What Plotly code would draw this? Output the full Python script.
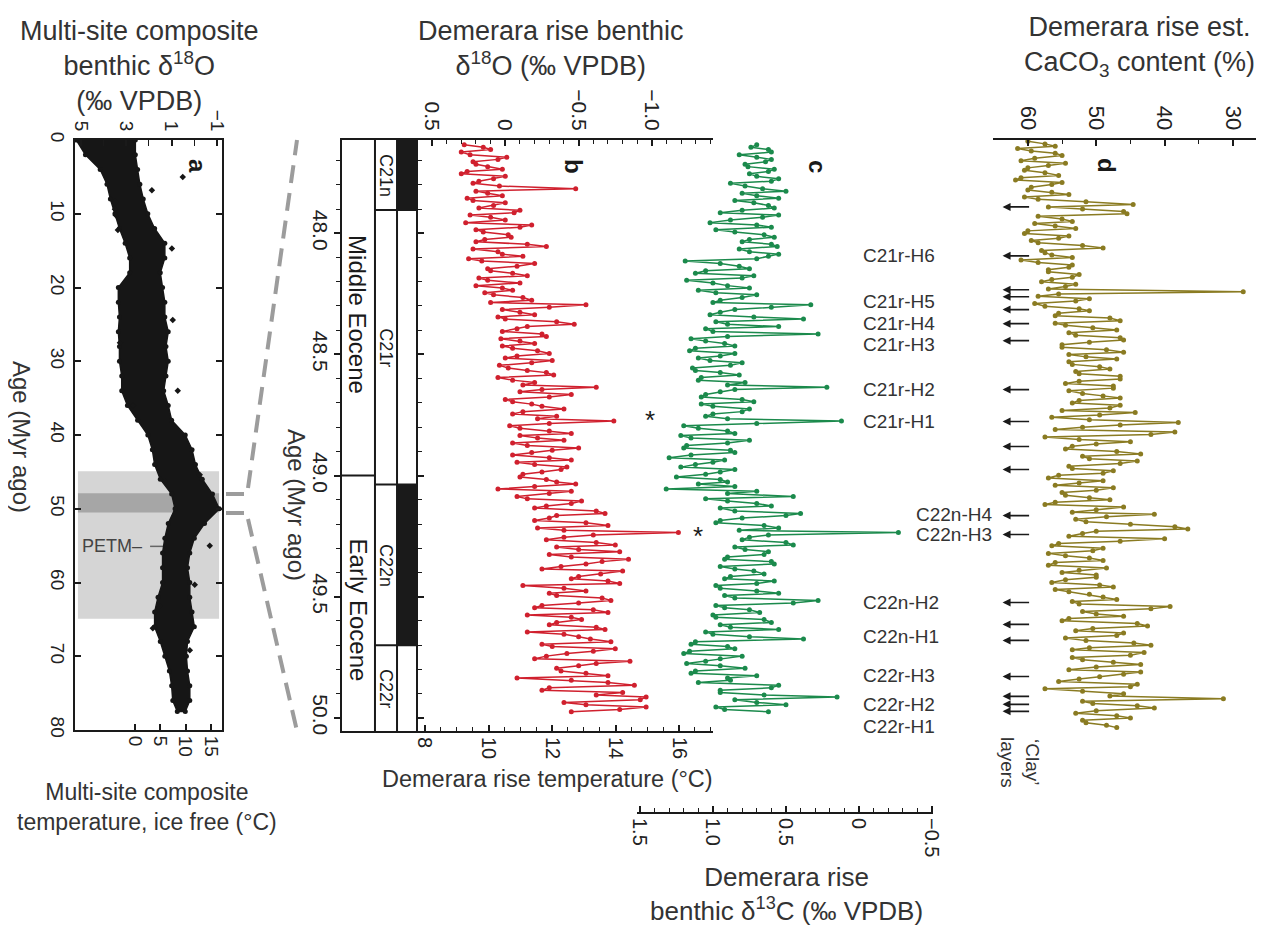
import plotly.graph_objects as go

# The page places the figure 8 px from the top-left corner, so the figure is sized to fill the
# remaining window and every layout position is given in window pixels.
OFF = 8
W, H = 1264 - OFF, 926 - OFF
def px(x): return (x - OFF) / W
def py(y): return 1 - (y - OFF) / H

# ---------------- data ----------------
# Panel a: multi-site composite benthic d18O (envelope of the point cloud) + scattered outliers
comp_age = [0, 2, 4, 6, 8, 10, 12, 14, 16, 18, 20, 22, 24, 26, 28, 30, 32, 34, 36, 38,
            40, 42, 44, 46, 48, 50, 52, 54, 56, 58, 60, 62, 64, 66, 68, 70, 72, 74, 76, 77.5]
comp_d18o_heavy = [5.2, 4.8, 4.15, 3.85, 3.7, 3.5, 3.3, 3.05, 2.85, 2.85, 3.35, 3.35, 3.3, 3.35, 3.3, 3.3, 3.2, 3.2, 2.95, 2.5,
                   2.05, 1.85, 1.75, 1.5, 1.0, 0.85, 1.15, 1.3, 1.4, 1.4, 1.4, 1.6, 1.75, 1.75, 1.5, 1.3, 1.1, 1.0, 0.95, 0.75]
comp_d18o_light = [2.6, 2.6, 2.5, 2.4, 2.25, 2.05, 1.75, 1.3, 1.3, 1.5, 1.4, 1.3, 1.3, 1.15, 1.25, 1.15, 1.25, 1.35, 1.15, 1.0,
                   0.4, 0.1, -0.05, -0.35, -0.8, -1.1, -0.45, 0.0, 0.2, 0.3, 0.2, 0.2, 0.1, 0.0, 0.3, 0.35, 0.3, 0.2, 0.2, 0.4]
comp_out_age = [5.0, 6.8, 8.4, 9.4, 10.2, 12.2, 14.7, 24.4, 27.5, 34.0, 36.0, 45.4, 46.3, 55.0, 60.3, 63.3, 66.2, 69.2]
comp_out_d18o = [0.51, 1.87, 3.5, 3.5, 3.46, 3.37, 0.99, 0.95, 3.28, 0.73, 2.71, -0.24, 1.3, -0.68, -0.02, 1.52, 1.83, 0.2]

# Panels b, c: Demerara rise benthic d18O and d13C (same samples; two interleaved sample sets)
bc_age = [47.635, 47.654, 47.676, 47.695, 47.715, 47.736, 47.754, 47.775, 47.794, 47.816,
          47.835, 47.855, 47.874, 47.896, 47.915, 47.934, 47.956, 47.975, 47.995, 48.016,
          48.035, 48.054, 48.076, 48.095, 48.114, 48.136, 48.155, 48.175, 48.194, 48.216,
          48.235, 48.254, 48.276, 48.295, 48.315, 48.336, 48.354, 48.375, 48.394, 48.416,
          48.435, 48.455, 48.474, 48.496, 48.515, 48.534, 48.556, 48.575, 48.595, 48.616,
          48.635, 48.654, 48.676, 48.695, 48.714, 48.736, 48.755, 48.775, 48.794, 48.816,
          48.835, 48.854, 48.876, 48.895, 48.915, 48.936, 48.954, 48.975, 48.994, 49.016,
          49.035, 49.055, 49.074, 49.096, 49.115, 49.134, 49.156, 49.175, 49.195, 49.216,
          49.235, 49.254, 49.276, 49.295, 49.314, 49.336, 49.355, 49.375, 49.394, 49.416,
          49.435, 49.454, 49.476, 49.495, 49.515, 49.536, 49.554, 49.575, 49.594, 49.616,
          49.635, 49.655, 49.674, 49.696, 49.715, 49.734, 49.756, 49.775, 49.795, 49.816,
          49.835, 49.854, 49.876, 49.895, 49.914, 49.936, 49.955, 49.975]
b_d18o = [0.28, 0.10, 0.24, 0.05, 0.20, 0.02, 0.30, 0.08, 0.22, -0.48,
          0.12, 0.26, 0.00, 0.18, -0.06, 0.10, 0.27, -0.10, 0.15, -0.04,
          0.20, -0.28, 0.05, -0.12, 0.16, -0.08, 0.10, -0.15, 0.12, 0.20,
          -0.05, 0.08, -0.18, -0.55, 0.02, -0.20, 0.00, -0.47, -0.08, -0.25,
          0.03, -0.20, -0.05, -0.30, 0.00, -0.18, -0.02, -0.28, 0.05, -0.20,
          -0.62, -0.10, -0.30, -0.05, -0.25, -0.12, -0.35, -0.74, -0.03, -0.30,
          -0.10, -0.40, -0.15, -0.32, -0.05, -0.45, -0.20, -0.38, -0.12, -0.28,
          -0.48, 0.05, -0.30, -0.15, -0.45, -0.20, -0.68, -0.30, -0.55, -0.22,
          -1.18, -0.40, -0.62, -0.35, -0.78, -0.45, -0.66, -0.38, -0.80, -0.50,
          -0.70, -0.12, -0.55, -0.35, -0.72, -0.25, -0.60, -0.15, -0.52, -0.30,
          -0.68, -0.40, -0.58, -0.25, -0.75, -0.42, -0.20, -0.62, -0.35, -0.55,
          -0.08, -0.70, -0.30, -0.80, -0.96, -0.40, -0.96, -0.45]
c_d13c = [0.70, 0.62, 0.82, 0.60, 0.78, 0.58, 0.75, 0.55, 0.88, 0.66,
          0.80, 0.55, 0.72, 0.58, 0.95, 0.66, 1.02, 0.60, 0.85, 0.58,
          0.80, 0.56, 0.75, 0.62, 1.19, 0.82, 1.05, 0.72, 1.18, 0.90,
          1.10, 0.70, 0.95, 0.33, 0.85, 1.02, 0.38, 0.90, 1.05, 0.28,
          1.15, 0.92, 1.12, 0.85, 1.10, 0.80, 1.14, 0.95, 1.08, 0.78,
          0.22, 0.95, 1.08, 0.72, 1.00, 0.80, 1.05, 0.12, 1.20, 0.90,
          1.22, 0.75, 1.18, 0.88, 1.15, 0.92, 1.12, 0.85, 1.05, 0.95,
          1.10, 1.32, 0.90, 1.05, 0.70, 0.95, 0.40, 0.80, 0.98, 0.55,
          -0.27, 0.75, 0.50, 0.85, 0.62, 0.90, 0.60, 0.95, 0.72, 0.88,
          0.58, 0.98, 0.70, 0.92, 0.28, 0.98, 0.75, 1.00, 0.65, 0.95,
          0.55, 1.00, 0.38, 1.15, 0.85, 1.20, 0.95, 1.18, 0.78, 1.15,
          0.90, 1.10, 0.60, 0.95, 0.15, 0.70, 0.98, 0.62]
bc_age2 = [47.645, 47.665, 47.686, 47.705, 47.725, 47.745, 47.765, 47.785, 47.805, 47.826,
           47.845, 47.865, 47.885, 47.905, 47.925, 47.945, 47.966, 47.985, 48.006, 48.026,
           48.045, 48.065, 48.086, 48.105, 48.125, 48.146, 48.165, 48.185, 48.205, 48.226,
           48.245, 48.265, 48.286, 48.305, 48.326, 48.345, 48.365, 48.385, 48.405, 48.426,
           48.445, 48.465, 48.485, 48.506, 48.525, 48.545, 48.566, 48.585, 48.606, 48.626,
           48.645, 48.665, 48.686, 48.705, 48.725, 48.746, 48.765, 48.785, 48.805, 48.826,
           48.845, 48.865, 48.886, 48.905, 48.926, 48.945, 48.965, 48.985, 49.006, 49.026,
           49.045, 49.065, 49.086, 49.105, 49.125, 49.146, 49.165, 49.185, 49.206, 49.226,
           49.245, 49.265, 49.286, 49.305, 49.326, 49.345, 49.365, 49.385, 49.406, 49.426,
           49.445, 49.465, 49.486, 49.505, 49.526, 49.545, 49.565, 49.585, 49.606, 49.626,
           49.645, 49.665, 49.686, 49.705, 49.725, 49.745, 49.766, 49.785, 49.806, 49.826,
           49.845, 49.865, 49.886, 49.905, 49.925, 49.946, 49.965]
b_d18o2 = [0.15, 0.30, -0.01, 0.22, 0.12, 0.26, 0.00, 0.18, 0.04, 0.20,
           0.02, 0.22, 0.08, -0.10, 0.24, 0.00, -0.18, 0.20, -0.02, 0.14,
           -0.15, 0.22, 0.02, 0.25, -0.20, 0.12, -0.05, 0.18, -0.10, 0.02,
           0.14, -0.12, 0.10, -0.30, -0.10, 0.05, -0.35, -0.15, 0.02, -0.28,
           -0.10, 0.02, -0.22, -0.08, -0.32, 0.04, -0.15, -0.33, -0.05, -0.12,
           -0.25, -0.45, 0.00, -0.18, -0.40, -0.05, -0.22, -0.30, -0.10, -0.45,
           -0.22, -0.05, -0.50, -0.18, -0.30, -0.08, -0.42, -0.25, -0.10, -0.35,
           -0.20, -0.45, -0.08, -0.52, -0.28, -0.62, -0.35, -0.20, -0.70, -0.40,
           -0.60, -0.28, -0.75, -0.50, -0.30, -0.84, -0.55, -0.25, -0.65, -0.45,
           -0.78, -0.40, -0.30, -0.66, -0.50, -0.20, -0.70, -0.45, -0.35, -0.62,
           -0.15, -0.50, -0.72, -0.32, -0.60, -0.28, -0.85, -0.50, -0.38, -0.70,
           -0.45, -0.88, -0.25, -0.62, -0.92, -0.55, -0.78]
c_d13c2 = [0.74, 0.60, 0.70, 0.64, 0.76, 0.62, 0.70, 0.60, 0.78, 0.50,
           0.70, 0.85, 0.62, 0.80, 0.55, 0.88, 0.70, 0.98, 0.65, 0.75,
           0.60, 0.82, 0.55, 0.70, 0.95, 0.75, 1.12, 0.80, 1.00, 0.75,
           0.98, 0.80, 1.00, 0.60, 0.95, 0.72, 0.98, 0.55, 1.00, 0.90,
           1.05, 0.85, 1.16, 0.95, 1.02, 0.88, 1.12, 0.82, 1.10, 0.90,
           0.85, 1.05, 0.80, 1.08, 0.75, 1.00, 0.90, 0.70, 1.10, 0.85,
           1.15, 0.90, 1.20, 0.85, 1.30, 1.00, 1.22, 0.95, 1.25, 0.90,
           0.85, 0.70, 0.45, 0.90, 0.60, 0.85, 0.50, 0.95, 0.65, 0.82,
           0.62, 0.80, 0.45, 0.78, 0.65, 0.92, 0.58, 0.85, 0.65, 0.92,
           0.70, 0.95, 0.55, 0.85, 0.45, 0.92, 0.68, 0.98, 0.60, 0.88,
           1.05, 0.75, 1.12, 0.90, 1.16, 0.80, 1.05, 0.95, 1.12, 0.70,
           0.88, 0.55, 0.95, 0.65, 0.85, 0.50, 0.92]

# Panel d: estimated CaCO3 content (two interleaved sample sets)
d_age = [47.620, 47.641, 47.660, 47.679, 47.701, 47.720, 47.740, 47.761, 47.780, 47.799,
         47.821, 47.840, 47.860, 47.881, 47.900, 47.919, 47.941, 47.960, 47.980, 48.001,
         48.020, 48.039, 48.061, 48.080, 48.100, 48.121, 48.140, 48.159, 48.181, 48.200,
         48.220, 48.241, 48.260, 48.279, 48.301, 48.320, 48.340, 48.361, 48.380, 48.399,
         48.421, 48.440, 48.460, 48.481, 48.500, 48.519, 48.541, 48.560, 48.580, 48.601,
         48.620, 48.639, 48.661, 48.680, 48.700, 48.721, 48.740, 48.759, 48.781, 48.800,
         48.820, 48.841, 48.860, 48.879, 48.901, 48.920, 48.940, 48.961, 48.980, 48.999,
         49.021, 49.040, 49.060, 49.081, 49.100, 49.119, 49.141, 49.160, 49.180, 49.201,
         49.220, 49.239, 49.261, 49.280, 49.300, 49.321, 49.340, 49.359, 49.381, 49.400,
         49.420, 49.441, 49.460, 49.479, 49.501, 49.520, 49.540, 49.561, 49.580, 49.599,
         49.621, 49.640, 49.660, 49.681, 49.700, 49.719, 49.741, 49.760, 49.780, 49.801,
         49.820, 49.839, 49.861, 49.880, 49.900, 49.921, 49.940, 49.959, 49.981, 50.000,
         50.020, 50.040]
d_caco3 = [60.0, 56.0, 59.5, 55.0, 61.0, 57.0, 60.5, 55.5, 61.8, 56.5,
           60.0, 54.0, 58.5, 44.6, 52.0, 45.5, 55.0, 59.0, 53.0, 60.5,
           55.5, 58.5, 49.0, 57.5, 53.5, 58.5, 54.0, 57.0, 53.5, 58.0,
           54.5, 28.5, 58.5, 53.0, 57.5, 51.0, 56.0, 46.5, 54.5, 47.0,
           53.0, 46.0, 55.0, 48.5, 54.0, 47.0, 53.5, 48.0, 52.5, 46.5,
           54.5, 47.5, 52.0, 46.5, 53.5, 48.0, 44.3, 56.5, 38.0, 52.0,
           38.5, 57.5, 45.0, 53.5, 47.0, 52.0, 44.0, 54.0, 47.5, 55.5,
           49.0, 56.0, 50.0, 54.5, 48.0, 57.5, 50.0, 41.5, 53.0, 45.0,
           36.6, 52.0, 40.0, 55.5, 49.0, 57.0, 51.0, 56.0, 48.5, 55.0,
           50.0, 56.5, 47.5, 54.0, 49.0, 53.5, 39.2, 52.0, 46.0, 55.0,
           42.5, 53.0, 47.0, 51.5, 42.0, 53.5, 45.0, 52.0, 43.5, 54.0,
           46.0, 52.5, 44.0, 57.5, 46.0, 31.4, 50.5, 41.5, 53.0, 45.0,
           51.5, 47.0]
d_age2 = [47.631, 47.650, 47.670, 47.690, 47.711, 47.730, 47.750, 47.771, 47.790, 47.810,
          47.831, 47.850, 47.870, 47.891, 47.910, 47.930, 47.951, 47.970, 47.990, 48.011,
          48.030, 48.050, 48.071, 48.090, 48.110, 48.131, 48.150, 48.170, 48.191, 48.210,
          48.230, 48.251, 48.270, 48.290, 48.311, 48.330, 48.350, 48.371, 48.390, 48.410,
          48.431, 48.450, 48.470, 48.491, 48.510, 48.530, 48.551, 48.570, 48.590, 48.611,
          48.630, 48.650, 48.671, 48.690, 48.710, 48.731, 48.750, 48.770, 48.791, 48.810,
          48.830, 48.851, 48.870, 48.890, 48.911, 48.930, 48.950, 48.971, 48.990, 49.010,
          49.031, 49.050, 49.070, 49.091, 49.110, 49.130, 49.151, 49.170, 49.190, 49.211,
          49.230, 49.250, 49.271, 49.290, 49.310, 49.331, 49.350, 49.370, 49.391, 49.410,
          49.430, 49.451, 49.470, 49.490, 49.511, 49.530, 49.550, 49.571, 49.590, 49.610,
          49.631, 49.650, 49.670, 49.691, 49.710, 49.730, 49.751, 49.770, 49.790, 49.811,
          49.830, 49.850, 49.871, 49.890, 49.910, 49.931, 49.950, 49.970, 49.991, 50.010,
          50.030]
d_caco3_2 = [57.5, 61.5, 56.0, 59.0, 54.5, 60.0, 57.5, 61.0, 55.0, 59.5,
             56.5, 60.5, 51.5, 57.0, 46.0, 58.5, 53.5, 56.0, 60.0, 54.0,
             59.5, 52.0, 58.0, 56.5, 61.0, 53.5, 57.0, 52.5, 56.5, 53.0,
             57.0, 55.5, 51.0, 59.0, 52.5, 55.5, 48.0, 56.0, 50.5, 54.0,
             46.5, 51.0, 55.0, 46.0, 51.5, 54.0, 49.5, 53.0, 46.5, 52.5,
             47.5, 54.0, 49.0, 52.5, 46.5, 55.0, 49.5, 51.0, 46.5, 56.0,
             42.0, 52.5, 50.0, 54.5, 43.5, 51.0, 46.5, 53.5, 49.0, 57.0,
             52.5, 47.5, 55.0, 51.0, 56.0, 46.0, 53.5, 48.5, 51.5, 38.5,
             50.0, 54.0, 46.5, 56.5, 50.5, 54.5, 49.0, 57.0, 52.5, 50.0,
             54.5, 49.5, 56.0, 51.0, 47.0, 52.5, 42.0, 50.0, 54.0, 44.0,
             50.5, 46.0, 54.5, 44.5, 51.0, 43.0, 53.5, 47.5, 50.0, 43.5,
             49.5, 55.5, 45.0, 52.0, 48.0, 52.0, 44.0, 50.0, 47.0, 52.0,
             48.5]

# hyperthermal labels and 'clay' layers
hyper_labels = ["C21r-H6", "C21r-H5", "C21r-H4", "C21r-H3", "C21r-H2", "C21r-H1",
                "C22n-H4", "C22n-H3", "C22n-H2", "C22n-H1", "C22r-H3", "C22r-H2", "C22r-H1"]
hyper_ages = [48.093, 48.282, 48.373, 48.460, 48.645, 48.777,
              49.161, 49.243, 49.524, 49.664, 49.825, 49.944, 50.035]
clay_ages = [47.891, 48.093, 48.233, 48.262, 48.315, 48.373, 48.443, 48.645, 48.777, 48.880,
             48.975, 49.165, 49.243, 49.524, 49.614, 49.680, 49.829, 49.911, 49.944, 49.973]

# magnetochrons and epochs
chron_names = ["C21n", "C21r", "C22n", "C22r"]
chron_top = [47.615, 47.904, 49.037, 49.700]
chron_bot = [47.904, 49.037, 49.700, 50.054]
chron_normal = [True, False, True, False]
epoch_names = ["Middle Eocene", "Early Eocene"]
epoch_top = [47.615, 49.0]
epoch_bot = [49.0, 50.054]

# merge interleaved sample sets by age
bc = sorted(zip(bc_age + bc_age2, b_d18o + b_d18o2, c_d13c + c_d13c2))
bc_age_all = [r[0] for r in bc]
b_all = [r[1] for r in bc]
c_all = [r[2] for r in bc]
dd = sorted(zip(d_age + d_age2, d_caco3 + d_caco3_2))
d_age_all = [r[0] for r in dd]
d_all = [r[1] for r in dd]

# ---------------- styling ----------------
FONT = "Liberation Sans, Arial, sans-serif"
INK = "#1a1a1a"
TXT = "#333333"
RED = "#d0202e"
GREEN = "#1b8a4c"
OLIVE = "#8a7b22"
AGE_TOP, AGE_BOT = 47.615, 50.054

def axstyle(size=21, **kw):
    d = dict(showgrid=False, zeroline=False, showline=True, linecolor=INK, linewidth=2,
             ticks='inside', tickcolor=INK, tickwidth=1.5, ticklen=6, automargin=False,
             tickfont=dict(family=FONT, size=size, color='#222'), tickangle=90)
    d.update(kw)
    return d

def minor_arr(vals, ticks='inside', ln=4):
    return dict(tickmode='array', tickvals=vals, ticks=ticks, ticklen=ln, tickcolor=INK, tickwidth=1.2, showgrid=False)

fig = go.Figure()

# panel a
fig.add_trace(go.Scatter(x=comp_d18o_heavy + comp_d18o_light[::-1], y=comp_age + comp_age[::-1],
                         xaxis='x', yaxis='y', mode='lines+markers', fill='toself', fillcolor='#161616',
                         line=dict(color='#161616', width=1.5), marker=dict(size=5, color='#161616'),
                         hoverinfo='skip', showlegend=False))
fig.add_trace(go.Scatter(x=comp_out_d18o, y=comp_out_age, xaxis='x', yaxis='y', mode='markers',
                         marker=dict(size=5, color='#161616', symbol='diamond'), showlegend=False))
fig.add_trace(go.Scatter(x=[None], y=[None], xaxis='x3', yaxis='y', showlegend=False))
fig.add_trace(go.Scatter(x=[None], y=[None], xaxis='x4', yaxis='y4', showlegend=False))
# panel b red
fig.add_trace(go.Scatter(x=b_all, y=bc_age_all, xaxis='x5', yaxis='y5', mode='lines+markers',
                         line=dict(color=RED, width=1.5), marker=dict(color=RED, size=5), showlegend=False))
fig.add_trace(go.Scatter(x=[None], y=[None], xaxis='x6', yaxis='y5', showlegend=False))
# panel c green
fig.add_trace(go.Scatter(x=c_all, y=bc_age_all, xaxis='x7', yaxis='y7', mode='lines+markers',
                         line=dict(color=GREEN, width=1.5), marker=dict(color=GREEN, size=5), showlegend=False))
# panel d olive
fig.add_trace(go.Scatter(x=d_all, y=d_age_all, xaxis='x8', yaxis='y8', mode='lines+markers',
                         line=dict(color=OLIVE, width=1.5), marker=dict(color=OLIVE, size=5), showlegend=False))

b_dom = [py(731), py(140)]
age_major = [48.0, 48.5, 49.0, 49.5, 50.0]
age_minor = [round(47.7 + 0.1 * k, 1) for k in range(24) if round(47.7 + 0.1 * k, 1) not in age_major]

layout = dict(
    width=W, height=H, margin=dict(l=0, r=0, t=0, b=0, pad=0, autoexpand=False),
    paper_bgcolor='white', plot_bgcolor='rgba(0,0,0,0)', showlegend=False,
    font=dict(family=FONT, color=TXT),
    # panel a
    xaxis=axstyle(size=19, domain=[px(75), px(222)], range=[5.26, -1.22], side='top', anchor='y',
                  tickmode='array', tickvals=[5, 3, 1, -1], ticktext=['5', '3', '1', '\u22121'],
                  minor=minor_arr([4, 2, 0], ln=6)),
    xaxis3=axstyle(size=19, overlaying='x', side='bottom', anchor='y', range=[-11.8, 17.2],
                   tickmode='array', tickvals=[0, 5, 10, 15], ticktext=['0', '5', '10', '15']),
    yaxis=axstyle(size=19, domain=[py(730), py(140)], range=[80, 0], anchor='x', mirror='ticks',
                  tickmode='array', tickvals=list(range(0, 81, 10)), ticklabelstandoff=-1),
    # panel b columns
    xaxis4=axstyle(domain=[px(342), px(418)], range=[0, 1], anchor='y4', mirror=True,
                   ticks='', showticklabels=False),
    yaxis4=axstyle(domain=b_dom, range=[AGE_BOT, AGE_TOP], anchor='x4', ticks='outside', ticklen=6,
                   tickmode='array', tickvals=age_major, ticktext=['48.0', '48.5', '49.0', '49.5', '50.0'],
                   minor=minor_arr(age_minor, ticks='outside', ln=4), ticklabelstandoff=-4),
    # panel b data
    xaxis5=axstyle(domain=[px(418), px(713)], range=[0.595, -1.416], side='top', anchor='y5',
                   tickmode='array', tickvals=[0.5, 0, -0.5, -1.0], ticktext=['0.5', '0', '\u22120.5', '\u22121.0'],
                   minor=minor_arr([round(0.5 - 0.1 * k, 1) for k in range(20)])),
    xaxis6=axstyle(size=20, overlaying='x5', side='bottom', anchor='y5', range=[7.78, 17.07],
                   tickmode='array', tickvals=[8, 10, 12, 14, 16],
                   minor=minor_arr([8 + 0.5 * k for k in range(19)])),
    yaxis5=axstyle(domain=b_dom, range=[AGE_BOT, AGE_TOP], anchor='x5', showticklabels=False,
                   tickmode='array', tickvals=age_major, minor=minor_arr(age_minor)),
    # panel c
    xaxis7=axstyle(size=20, domain=[px(637), px(933)], range=[1.52, -0.507], anchor='free', position=py(813),
                   side='bottom', tickmode='array', tickvals=[1.5, 1.0, 0.5, 0, -0.5],
                   ticktext=['1.5', '1.0', '0.5', '0', '\u22120.5'],
                   minor=minor_arr([round(1.5 - 0.1 * k, 1) for k in range(21)])),
    yaxis7=dict(domain=b_dom, range=[AGE_BOT, AGE_TOP], anchor='x7', visible=False, automargin=False),
    # panel d
    xaxis8=axstyle(size=22, domain=[px(993), 1.0], range=[65.1, 25.46], side='top', anchor='y8',
                   tickmode='array', tickvals=[60, 50, 40, 30], minor=minor_arr([55, 45, 35])),
    yaxis8=dict(domain=b_dom, range=[AGE_BOT, AGE_TOP], anchor='x8', visible=False, automargin=False),
)
fig.update_layout(**layout)

shapes = []
# panel a shading
shapes.append(dict(type='rect', xref='x domain', yref='y', x0=0.02, x1=0.98, y0=44.9, y1=64.9,
                   fillcolor='#d5d5d5', line=dict(width=0), layer='below'))
shapes.append(dict(type='rect', xref='x domain', yref='y', x0=0.02, x1=0.98, y0=47.9, y1=50.5,
                   fillcolor='#a6a6a6', line=dict(width=0), layer='below'))
shapes.append(dict(type='line', xref='x', yref='y', x0=1.95, x1=1.2, y0=55.1, y1=55.1,
                   line=dict(color='#666', width=1.5), layer='below'))
# connecting dashed lines
DASH = dict(color='#9c9c9c', width=4, dash='18px,10px')
for (x0, y0, x1, y1) in [(226, 494, 248, 494), (226, 513, 248, 513), (248, 488, 297, 140), (248, 519, 297, 731)]:
    shapes.append(dict(type='line', xref='paper', yref='paper', x0=px(x0), y0=py(y0), x1=px(x1), y1=py(y1), line=DASH))
# polarity column / chron boundaries
for nm, t, b, normal in zip(chron_names, chron_top, chron_bot, chron_normal):
    if normal:
        shapes.append(dict(type='rect', xref='x4', yref='y4', x0=0.724, x1=1.0, y0=t, y1=b,
                           fillcolor=INK, line=dict(width=0)))
    if b < AGE_BOT - 0.01:
        shapes.append(dict(type='line', xref='x4', yref='y4', x0=0.434, x1=1.0, y0=b, y1=b,
                           line=dict(color=INK, width=2)))
for t, b in zip(epoch_top, epoch_bot):
    if b < AGE_BOT - 0.01:
        shapes.append(dict(type='line', xref='x4', yref='y4', x0=0.0, x1=0.434, y0=b, y1=b,
                           line=dict(color=INK, width=2)))
for xv in [0.434, 0.724]:
    shapes.append(dict(type='line', xref='x4', yref='y4', x0=xv, x1=xv, y0=AGE_TOP, y1=AGE_BOT,
                       line=dict(color=INK, width=2)))
fig.update_layout(shapes=shapes)

ann = []
def txt(x, y, s, size=20, angle=0, xanchor='center', yanchor='middle', xref='paper', yref='paper', color=TXT, bold=False):
    if bold:
        s = '<b>' + s + '</b>'
    ann.append(dict(x=x, y=y, xref=xref, yref=yref, text=s, showarrow=False, textangle=angle,
                    xanchor=xanchor, yanchor=yanchor, font=dict(family=FONT, size=size, color=color)))

# titles
txt(px(139), py(66), 'Multi-site composite<br>benthic \u03b4<sup>18</sup>O<br>(\u2030 VPDB)', size=27)
txt(px(551), py(48), 'Demerara rise benthic<br>\u03b4<sup>18</sup>O (\u2030 VPDB)', size=27)
txt(px(1139), py(46), 'Demerara rise est.<br>CaCO<sub>3</sub> content (%)', size=27)
txt(px(147), py(807), 'Multi-site composite<br>temperature, ice free (\u00b0C)', size=23)
txt(px(547), py(779), 'Demerara rise temperature (\u00b0C)', size=23.5)
txt(px(786), py(894), 'Demerara rise<br>benthic \u03b4<sup>13</sup>C (\u2030 VPDB)', size=26)
txt(px(22), py(437), 'Age (Myr ago)', size=24, angle=90)
txt(px(297), py(505), 'Age (Myr ago)', size=24, angle=90)
# panel letters
txt(px(197), py(166), 'a', size=24, angle=90, bold=True, color=INK)
txt(px(573), py(166), 'b', size=24, angle=90, bold=True, color=INK)
txt(px(817), py(166), 'c', size=24, angle=90, bold=True, color=INK)
txt(px(1107), py(165), 'd', size=24, angle=90, bold=True, color=INK)
# PETM
txt(px(80), 55.1, 'PETM\u2013', size=18, xanchor='left', yref='y', color='#444')
# chrons / epochs
for nm, t, b in zip(chron_names, chron_top, chron_bot):
    txt(0.579, (t + b) / 2, nm, size=18, angle=90, xref='x4', yref='y4', color=INK)
for nm, t, b in zip(epoch_names, epoch_top, epoch_bot):
    txt(0.21, (t + b) / 2 + 0.03, nm, size=24, angle=90, xref='x4', yref='y4', color=INK)
# asterisks
txt(px(650), 48.769, '*', size=26, xref='paper', yref='y5', color=INK)
txt(px(698), 49.251, '*', size=26, xref='paper', yref='y5', color=INK)
# hyperthermal labels
for lab, a in zip(hyper_labels, hyper_ages):
    xl = 914 if lab in ("C22n-H4", "C22n-H3") else 861
    txt(px(xl), a, lab, size=19, xanchor='left', yref='y5')
# clay layers arrows
for a in clay_ages:
    ann.append(dict(x=63.7, y=a, xref='x8', yref='y8', ax=59.6, ay=a, axref='x8', ayref='y8',
                    text='', showarrow=True, arrowhead=2, arrowsize=1, arrowwidth=1.6, arrowcolor=INK))
txt(px(1020), py(762), '\u2018Clay\u2019<br>layers', size=19, angle=90)

fig.update_layout(annotations=ann)
fig.write_html("out.html")
